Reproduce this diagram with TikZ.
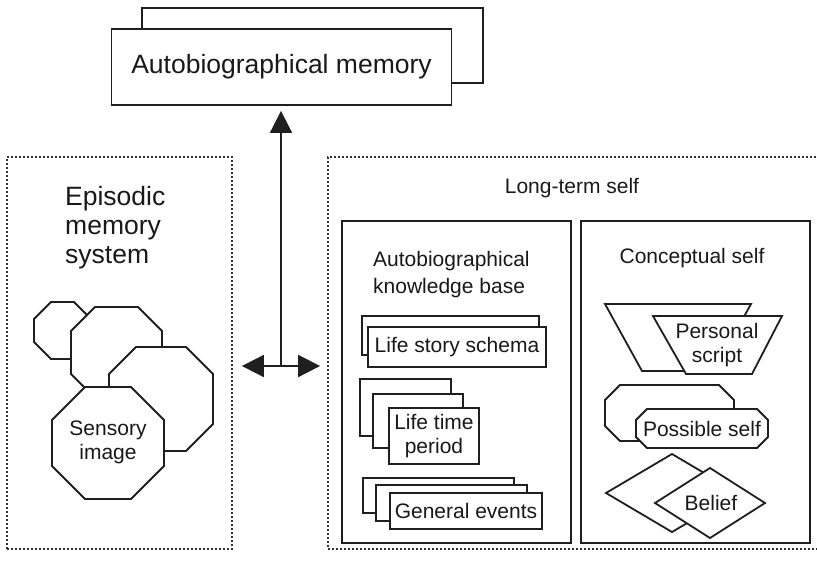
\documentclass[tikz,border=0pt]{standalone}
\usepackage{fontspec}
\setmainfont{Liberation Sans}
\usetikzlibrary{arrows.meta}
\newcommand\octpath[5]{(#1+#5,#2) -- (#3-#5,#2) -- (#3,#2+#5) -- (#3,#4-#5) -- (#3-#5,#4) -- (#1+#5,#4) -- (#1,#4-#5) -- (#1,#2+#5) -- cycle}
\begin{document}
\begin{tikzpicture}[x=1pt,y=-1pt,
  ln/.style={draw=black!88, line width=1.8pt, line join=miter},
  mybox/.style={ln, fill=white, inner sep=0pt},
  dotbox/.style={draw=black!80, line width=1.8pt, dash pattern=on 1.8pt off 2.2pt, inner sep=0pt},
  bigtext/.style={font=\fontsize{26.5}{29}\selectfont, text=black!90},
  smalltext/.style={font=\fontsize{21}{24}\selectfont, text=black!90, align=center, inner sep=0pt},
  arrowtip/.style={ln, -{Triangle[length=22pt,width=22pt]}}
]
\useasboundingbox (0,0) rectangle (817,560);
\clip (0,0) rectangle (817,560);

% top box
\node[mybox, minimum width=341pt, minimum height=75pt] (amback) at (312.5,45.5) {};
\node[mybox, minimum width=340pt, minimum height=76pt, bigtext] (am) at (281.5,67) {Autobiographical memory};

% panels
\node[dotbox, minimum width=225pt, minimum height=392pt] (epi) at (119.5,353) {};
\node[dotbox, minimum width=512pt, minimum height=392pt] (lts) at (584,353) {};

% episodic memory system
\node[bigtext, align=left, inner sep=0pt, anchor=north west] (epitext) at (65,186) {Episodic\\memory\\system};
\draw[ln, fill=white] \octpath{34}{302}{91}{359}{17};
\draw[ln, fill=white] \octpath{71}{307}{162}{398}{24};
\draw[ln, fill=white] \octpath{109}{347}{213}{451}{27};
\draw[ln, fill=white] \octpath{52}{387}{164}{499}{33};
\node[smalltext] (sens) at (108,442) {Sensory\\image};

% long-term self
\node[smalltext] (ltstext) at (572,188) {Long-term self};
\node[mybox, minimum width=229pt, minimum height=322pt] (abk) at (456.5,382) {};
\node[mybox, minimum width=229pt, minimum height=322pt] (cs) at (695.5,382) {};
\node[smalltext, align=left, anchor=north west, font=\fontsize{21}{27}\selectfont] (abktext) at (373,251) {Autobiographical\\knowledge base};
\node[smalltext] (cstext) at (692,258) {Conceptual self};

% life story schema
\node[mybox, minimum width=177pt, minimum height=39pt] (lss1) at (450.5,335.5) {};
\node[mybox, minimum width=178pt, minimum height=40pt, smalltext] (lss2) at (457,347) {Life story schema};

% life time period
\node[mybox, minimum width=91pt, minimum height=57pt] (ltp1) at (405.5,407.5) {};
\node[mybox, minimum width=90pt, minimum height=54pt] (ltp2) at (418,421) {};
\node[mybox, minimum width=90pt, minimum height=56pt, smalltext] (ltp3) at (434,436) {Life time\\period};

% general events
\node[mybox, minimum width=151pt, minimum height=35pt] (ge1) at (438.5,495.5) {};
\node[mybox, minimum width=151pt, minimum height=36pt] (ge2) at (451.5,503) {};
\node[mybox, minimum width=152pt, minimum height=36pt, smalltext] (ge3) at (466,511) {General events};

% personal script
\draw[ln, fill=white] (605,304) -- (751,304) -- (714,371) -- (642,371) -- cycle;
\draw[ln, fill=white] (653,316) -- (782,316) -- (752,374) -- (686,374) -- cycle;
\node[smalltext] (ps) at (717,345) {Personal\\script};

% possible self
\draw[ln, fill=white] \octpath{605}{385}{734}{441}{15};
\draw[ln, fill=white] \octpath{636}{409}{768}{448}{11};
\node[smalltext] (pos) at (702,429) {Possible self};

% belief
\draw[ln, fill=white] (606,493) -- (672,454) -- (738,493) -- (672,532) -- cycle;
\draw[ln, fill=white] (655,503) -- (710,468) -- (765,503) -- (710,538) -- cycle;
\node[smalltext] (bel) at (711,503) {Belief};

% arrows
\coordinate (j) at (281,366);
\draw[arrowtip, shorten >=5pt] (j) -- (j |- am.south);
\draw[arrowtip, shorten >=9pt] (j) -- (j -| epi.east);
\draw[arrowtip, shorten >=7pt] (j) -- (j -| lts.west);
\end{tikzpicture}
\end{document}
